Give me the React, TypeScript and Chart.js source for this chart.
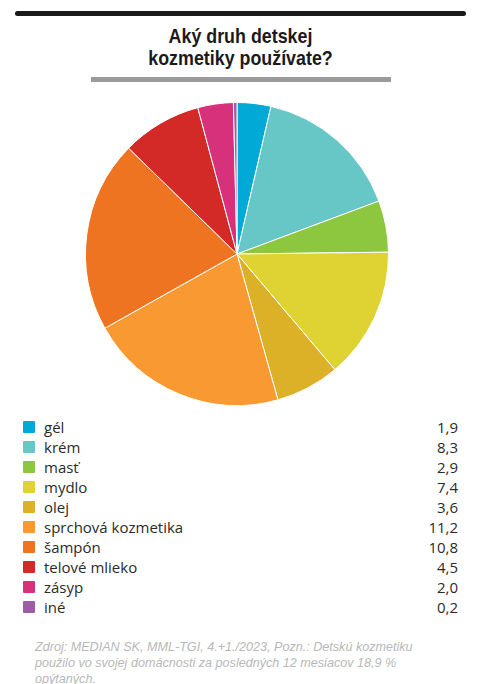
import React, { useEffect, useRef } from "react";
import { Chart, registerables } from "chart.js";

Chart.register(...registerables);

const titleLines = ["Aký druh detskej", "kozmetiky používate?"];
const categories = ["gél", "krém", "masť", "mydlo", "olej", "sprchová kozmetika", "šampón", "telové mlieko", "zásyp", "iné"];
const values = [1.9, 8.3, 2.9, 7.4, 3.6, 11.2, 10.8, 4.5, 2.0, 0.2];
const valueLabels = ["1,9", "8,3", "2,9", "7,4", "3,6", "11,2", "10,8", "4,5", "2,0", "0,2"];
const colors = ["#00A9D6", "#66C7C6", "#8DC63F", "#DFD233", "#DDB127", "#F89A31", "#EF7422", "#D42A27", "#D6317A", "#A05BA5"];
const footerLines = [
  "Zdroj: MEDIAN SK, MML-TGI, 4.+1./2023, Pozn.: Detskú kozmetiku",
  "použilo vo svojej domácnosti za posledných 12 mesiacov 18,9 %",
  "opýtaných.",
];

export default function App() {
  const ref = useRef<HTMLCanvasElement | null>(null);
  useEffect(() => {
    if (!ref.current) return;
    const chart = new Chart(ref.current, {
      type: "pie",
      data: {
        labels: categories,
        datasets: [
          {
            data: values,
            backgroundColor: colors,
            borderColor: "#ffffff",
            borderWidth: 1,
          },
        ],
      },
      options: {
        animation: false,
        responsive: false,
        maintainAspectRatio: false,
        layout: { padding: 0 },
        plugins: { legend: { display: false }, tooltip: { enabled: false }, title: { display: false } },
      },
    });
    return () => chart.destroy();
  }, []);

  return (
    <div style={{ position: "absolute", left: 0, top: 0, width: 485, height: 684, background: "#fff", overflow: "hidden" }}>
      <div style={{ position: "absolute", left: 15, top: 11, width: 451, height: 5, background: "#1a1a1a", borderRadius: 3 }} />
      <div
        style={{
          position: "absolute",
          left: 0,
          top: 25,
          width: 481,
          textAlign: "center",
          fontFamily: "'Liberation Sans', Arial, sans-serif",
          fontWeight: "bold",
          fontSize: 21,
          lineHeight: "22px",
          color: "#1a1a1a",
          transform: "scaleX(0.85)",
          transformOrigin: "240.5px 0px",
        }}
      >
        {titleLines.map((t, i) => (
          <div key={i}>{t}</div>
        ))}
      </div>
      <div style={{ position: "absolute", left: 91, top: 77, width: 300, height: 5, background: "#9a9a9a" }} />
      <canvas ref={ref} width={304} height={304} style={{ position: "absolute", left: 85, top: 102, width: 304, height: 304 }} />
      {categories.map((c, i) => (
        <div
          key={c}
          style={{
            position: "absolute",
            left: 0,
            top: 417 + i * 20,
            width: 485,
            height: 20,
            fontFamily: "'Open Sans', sans-serif",
            fontSize: 15,
            lineHeight: "20px",
            color: "#2b2b2b",
          }}
        >
          <div style={{ position: "absolute", left: 23, top: 4, width: 12, height: 12, background: colors[i], borderRadius: 1 }} />
          <div style={{ position: "absolute", left: 44, top: 0 }}>{c}</div>
          <div style={{ position: "absolute", right: 485 - 458, top: 0 }}>{valueLabels[i]}</div>
        </div>
      ))}
      <div
        style={{
          position: "absolute",
          left: 35,
          top: 639,
          fontFamily: "'Liberation Sans', sans-serif",
          fontStyle: "italic",
          fontSize: 12.6,
          lineHeight: "16px",
          color: "#b8b8b8",
          whiteSpace: "nowrap",
        }}
      >
        {footerLines.map((t, i) => (
          <div key={i}>{t}</div>
        ))}
      </div>
    </div>
  );
}
